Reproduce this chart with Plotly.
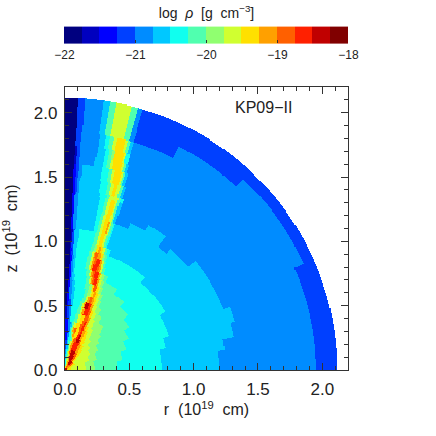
import numpy as np
import plotly.graph_objects as go

# jet colours of the 16 density levels, log rho from -22 to -18 in 0.25 steps
level_colors = ["#00007F", "#0000BF", "#0000FF", "#0040FF", "#008CFF", "#00C8FF", "#10FFEF", "#50FFAF",
                "#90FF70", "#D0FF30", "#FFE000", "#FFA000", "#FF6000", "#FF2000", "#C00000", "#800000"]
cbar_ticks = [-22, -21, -20, -19, -18]
x_ticks = [0.0, 0.5, 1.0, 1.5, 2.0]

# density: outer radius of the shell, then (level, end of band in degrees from the pole)
shells = [
    (0.02, [(14, 90)]),
    (0.05, [(7, 8), (10, 20), (12, 40), (11, 60), (10, 90)]),
    (0.09, [(6, 6), (9, 15), (11, 25), (14, 44), (12, 52), (10, 62), (9, 90)]),
    (0.13, [(5, 5), (7, 10), (9, 14), (11, 18), (14, 34), (12, 40), (10, 47), (9, 90)]),
    (0.16, [(4, 4), (6, 8), (8, 11), (10, 14), (12, 18), (14, 30), (12, 38), (10, 45), (9, 90)]),
    (0.20, [(3, 3), (5, 7), (7, 10), (9, 13), (11, 17), (13, 30), (11, 36), (10, 43), (9, 68), (8, 90)]),
    (0.23, [(3, 4), (5, 7), (7, 11), (9, 14), (11, 18), (13, 29), (11, 34), (10, 39), (9, 58), (8, 90)]),
    (0.26, [(2, 3), (4, 6), (6, 10), (7, 13), (10, 16), (12, 21), (14, 27), (12, 30), (10, 35), (9, 50), (8, 72), (7, 90)]),
    (0.30, [(2, 4), (4, 7), (6, 10), (8, 12), (11, 15), (10, 20), (13, 23), (14, 26), (11, 29), (10, 33), (9, 42), (8, 60), (7, 90)]),
    (0.34, [(2, 4), (4, 7), (6, 9), (8, 11), (11, 13), (12, 16), (10, 20), (12, 23), (13, 25), (11, 28), (10, 31), (9, 37), (8, 52), (7, 90)]),
    (0.38, [(2, 4), (4, 7), (5, 9), (7, 11), (9, 14), (10, 19), (12, 22), (13, 24), (11, 26), (10, 29), (9, 35), (8, 47), (7, 90)]),
    (0.41, [(2, 4), (4, 6), (6, 10), (7, 14), (9, 17), (10, 20), (12, 22), (13, 24), (11, 26), (9, 32), (8, 44), (7, 90)]),
    (0.45, [(1, 2), (3, 4), (4, 6), (6, 11), (7, 14), (9, 17), (10, 20), (12, 24), (11, 26), (9, 31), (8, 42), (7, 80), (6, 90)]),
    (0.50, [(1, 2), (3, 4), (4, 6), (6, 12), (7, 15), (9, 16.5), (11, 18), (13, 22), (12, 24), (10, 26), (9, 29), (8, 35), (7, 72), (6, 90)]),
    (0.55, [(0, 1.5), (2, 3), (3, 5), (5, 7), (6, 13), (7, 15), (9, 16), (11, 17), (14, 20), (13, 22), (11, 24), (9, 27), (8, 31), (7, 64), (6, 90)]),
    (0.60, [(0, 1.5), (2, 3), (4, 5), (5, 7), (6, 14), (7, 16), (9, 17.5), (11, 19), (12, 21), (11, 22.5), (10, 24), (9, 26), (8, 28), (7, 56), (6, 90)]),
    (0.65, [(0, 2), (2, 3), (4, 5), (5, 7), (6, 14), (7, 16), (8, 18), (9, 19), (10, 20.5), (11, 22), (10, 23.5), (9, 25), (8, 27), (7, 49), (6, 90)]),
    (0.70, [(0, 2), (2, 3.5), (4, 5), (5, 6.5), (6, 13), (7, 16), (8, 18), (10, 19), (12, 21), (10, 22.5), (9, 23.5), (8, 25), (7, 41), (6, 90)]),
    (0.75, [(0, 2.5), (2, 3.5), (4, 4.5), (5, 6), (6, 13), (7, 15), (9, 16), (11, 17), (12, 18), (13, 20), (11, 21), (9, 22.5), (8, 24), (7, 33), (6, 90)]),
    (0.80, [(0, 2.5), (2, 3.5), (4, 4.5), (5, 5.5), (6, 12), (7, 14), (9, 15), (11, 16), (12, 17), (13, 19.5), (11, 20.5), (9, 21.5), (8, 23), (7, 25), (6, 78), (5, 90)]),
    (0.85, [(0, 2.5), (2, 3.5), (4, 4.5), (5, 5.5), (6, 11), (7, 13), (9, 14), (11, 15), (13, 17.5), (12, 18.5), (11, 19.5), (9, 20.5), (7, 22), (6, 72), (5, 90)]),
    (0.90, [(0, 2.5), (2, 3.5), (4, 4.5), (5, 5.5), (6, 11), (7, 13), (9, 14), (11, 15), (12, 16), (13, 18), (11, 19), (9, 20), (7, 21), (6, 60), (5, 90)]),
    (0.95, [(0, 2.5), (2, 3.2), (3, 4), (5, 5.5), (6, 11.5), (7, 13), (9, 14), (11, 14.5), (12, 16), (11, 17.5), (10, 18.5), (8, 19.5), (7, 20.5), (6, 41), (5, 90)]),
    (1.00, [(0, 2.5), (1, 3), (3, 4), (5, 5.5), (6, 12), (7, 13.5), (8, 14.5), (10, 15.5), (11, 16.5), (10, 17.5), (9, 18.5), (7, 19.5), (6, 21), (5, 90)]),
    (1.10, [(0, 2.5), (1, 3.2), (3, 4), (5, 6), (6, 12.5), (7, 14), (9, 15), (10, 16.5), (9, 17.3), (7, 18.2), (6, 19), (5, 90)]),
    (1.20, [(0, 2.5), (2, 3.2), (4, 4.5), (5, 11.5), (6, 13), (7, 14), (9, 15), (10, 16.3), (11, 17), (9, 17.6), (7, 18.5), (6, 19), (5, 90)]),
    (1.25, [(0, 2.5), (2, 3.2), (4, 4.5), (5, 11.5), (6, 13), (7, 14), (9, 15), (10, 16.5), (9, 17.5), (7, 18), (5, 19), (4, 24), (5, 37), (4, 41), (5, 83), (4, 90)]),
    (1.30, [(0, 2.5), (2, 3.2), (4, 4.5), (5, 11.5), (6, 13.3), (7, 14.3), (9, 15.3), (10, 16.8), (9, 17.3), (7, 18), (5, 19), (4, 30), (5, 37), (4, 50), (5, 79), (4, 90)]),
    (1.32, [(0, 2.5), (2, 3.2), (4, 4.5), (5, 11.5), (6, 13.3), (7, 14.3), (9, 15.3), (10, 16.8), (9, 17.3), (7, 18), (5, 19), (4, 50), (5, 79), (4, 90)]),
    (1.335, [(0, 2.5), (2, 3.2), (4, 4.5), (5, 11.5), (6, 13.3), (7, 14.3), (9, 15.3), (10, 16.8), (9, 17.3), (7, 18), (5, 19), (4, 69), (5, 79), (4, 90)]),
    (1.37, [(0, 2.5), (2, 3.2), (4, 4.5), (5, 11.5), (6, 13.3), (7, 14.3), (9, 15.3), (10, 16.8), (9, 17.3), (7, 18), (5, 19), (4, 69), (5, 74), (4, 90)]),
    (1.40, [(0, 2.5), (2, 3.2), (3, 3.8), (4, 4.5), (5, 11.2), (6, 13.6), (7, 14.5), (9, 17.3), (7, 18), (6, 19), (4, 90)]),
    (1.50, [(0, 2.5), (2, 3.2), (3, 3.8), (4, 4.5), (5, 10.8), (6, 13), (7, 14), (9, 15), (10, 16), (9, 16.8), (7, 17.6), (5, 18.4), (4, 90)]),
    (1.60, [(0, 2.5), (2, 3.2), (3, 4), (4, 5), (5, 10.5), (6, 12.5), (7, 13.5), (9, 14.2), (10, 16), (9, 16.5), (7, 17), (5, 17.8), (4, 90)]),
    (1.67, [(0, 2.5), (1, 3), (3, 4), (4, 8), (5, 10.5), (6, 11.5), (7, 12.5), (9, 13.2), (10, 15.5), (9, 16), (7, 16.6), (5, 17.3), (4, 90)]),
    (1.75, [(0, 2.7), (1, 3.2), (3, 4), (4, 8.5), (5, 10.5), (6, 11.5), (7, 12.3), (8, 13), (10, 15.3), (9, 15.7), (6, 16.9), (4, 90)]),
    (1.85, [(0, 2.7), (3, 4), (4, 8.5), (5, 10), (6, 11), (7, 12), (9, 12.8), (10, 14.7), (9, 15.3), (7, 16), (5, 16.8), (4, 90)]),
    (1.95, [(0, 2.8), (3, 4.2), (4, 8.2), (5, 9.6), (7, 11), (9, 14.2), (7, 15.6), (4, 16.8), (3, 27), (4, 90)]),
    (2.03, [(0, 2.8), (3, 4.2), (4, 8.2), (5, 9.6), (7, 11), (9, 14.2), (7, 15.6), (4, 16.6), (3, 43), (4, 66), (3, 90)]),
    (2.115, [(0, 2.8), (3, 4.2), (4, 8.2), (5, 9.6), (7, 11), (9, 14.2), (7, 15.6), (4, 16.6), (3, 90)]),
]

# sample the shell table on a fine r-z raster
grid = np.arange(0.004, 2.2, 0.008)
rr, zz = np.meshgrid(grid, grid)
radius = np.hypot(rr, zz)
theta = np.degrees(np.arctan2(rr, zz))
log_rho = np.full(rr.shape, np.nan)
inner = 0.0
for outer, bands in shells:
    start = 0.0
    for level, end in bands:
        mask = (radius >= inner) & (radius < outer) & (theta >= start) & (theta <= end)
        log_rho[mask] = -22 + 0.25 * level + 0.125
        start = end
    inner = outer

colorscale = []
for i, color in enumerate(level_colors):
    colorscale += [[i / 16, color], [(i + 1) / 16, color]]

fig = go.Figure(go.Heatmap(
    x=grid, y=grid, z=log_rho,
    zmin=-22, zmax=-18,
    colorscale=colorscale,
    hoverinfo="skip",
    colorbar=dict(
        orientation="h",
        lenmode="pixels", len=284, thickness=17,
        x=0.5, xanchor="center", xpad=0,
        y=1.078, yanchor="bottom", ypad=0,
        outlinewidth=0,
        ticks="inside", ticklen=3, tickcolor="#333333", tickwidth=1,
        tickvals=cbar_ticks, ticktext=[str(t).replace("-", "−") for t in cbar_ticks],
        tickfont=dict(family="Liberation Sans", size=12, color="#222222"),
        title=dict(text="log  <i>ρ</i>  [g  cm<sup>−3</sup>]", side="top",
                   font=dict(family="Liberation Sans", size=14, color="#222222")),
    ),
))

axis_style = dict(
    range=[0, 2.2], tickmode="array", tickvals=x_ticks, ticktext=[f"{t:.1f}" for t in x_ticks],
    ticks="inside", ticklen=7, tickwidth=1.2, tickcolor="#333333",
    ticklabelstandoff=3,
    minor=dict(dtick=0.1, ticks="inside", ticklen=4, tickwidth=1, tickcolor="#333333"),
    showline=True, linecolor="#333333", linewidth=1.3, mirror="allticks",
    showgrid=False, zeroline=False,
    tickfont=dict(family="Liberation Sans", size=17, color="#222222"),
)

fig.update_layout(
    width=436, height=436,
    margin=dict(l=65, r=88, t=87, b=66, autoexpand=False),
    paper_bgcolor="white", plot_bgcolor="white",
    xaxis=dict(axis_style, title=dict(text="r  (10<sup>19</sup>  cm)", standoff=4,
                                      font=dict(family="Liberation Sans", size=16, color="#222222"))),
    yaxis=dict(axis_style, title=dict(text="z  (10<sup>19</sup>  cm)", standoff=4,
                                      font=dict(family="Liberation Sans", size=16, color="#222222"))),
    annotations=[dict(text="KP09−II", x=1.54, y=2.04, xref="x", yref="y", showarrow=False,
                      font=dict(family="Liberation Sans", size=16, color="#222222"))],
)

fig.write_html("out.html", config={"displayModeBar": False}, post_script="document.body.style.margin='0';")
